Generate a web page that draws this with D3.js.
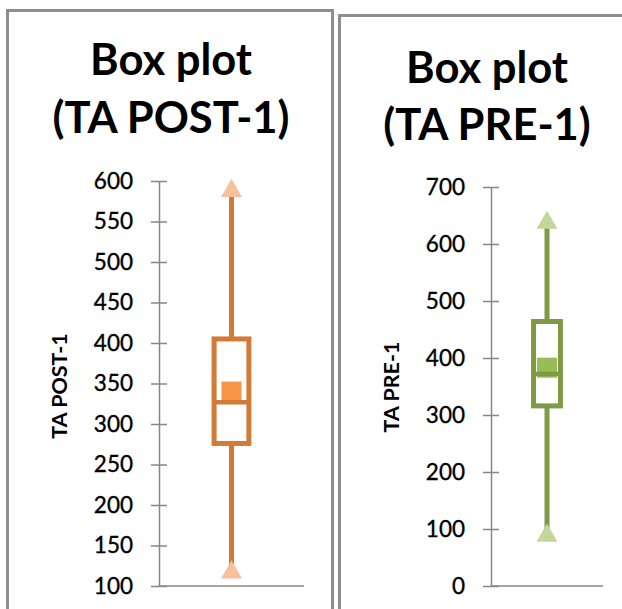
<!DOCTYPE html>
<html>
<head>
<meta charset="utf-8">
<script src="https://cdn.jsdelivr.net/npm/d3@7"></script>
<style>
  html, body { margin: 0; padding: 0; background: #fff; }
  svg { display: block; }
  text { font-family: Lato, "Open Sans", sans-serif; }
</style>
</head>
<body>
<svg id="chart" width="622" height="609"></svg>
<script>
// ---- data ----
const panels = ["TA POST-1", "TA PRE-1"];
const titles = [["Box plot", "(TA POST-1)"], ["Box plot", "(TA PRE-1)"]];
const mins    = [118, 90];
const q1s     = [276, 316];
const medians = [327, 372];
const q3s     = [405, 464];
const maxs    = [589, 639];
const means   = [340, 383];
const yDomains = [[100, 600], [0, 700]];
const yTicks = [
  [100, 150, 200, 250, 300, 350, 400, 450, 500, 550, 600],
  [0, 100, 200, 300, 400, 500, 600, 700]
];

// ---- styling / layout (not data) ----
const layouts = [
  { frame: [7.5, 10.5, 325, 700], axisX: 159, axisRight: 304, top: 181, bottom: 586,
    titleX: 171, titleY: [75, 133], labelX: 59, labelY: 386,
    stroke: "#D17B36", meanFill: "#F79646", triFill: "#F9C09E" },
  { frame: [339.5, 15.5, 320, 700], axisX: 491, axisRight: 603, top: 187, bottom: 586,
    titleX: 487, titleY: [83, 140], labelX: 391, labelY: 387,
    stroke: "#7E9A45", meanFill: "#9BBB59", triFill: "#C3D69B" }
];

const svg = d3.select("#chart");
const axisColor = "#878787";

panels.forEach((name, i) => {
  const L = layouts[i];
  const g = svg.append("g");

  // frame
  g.append("rect")
    .attr("x", L.frame[0]).attr("y", L.frame[1])
    .attr("width", L.frame[2]).attr("height", L.frame[3])
    .attr("fill", "#fff").attr("stroke", "#8e8e8e").attr("stroke-width", 3);

  // title
  titles[i].forEach((t, k) => {
    g.append("text")
      .attr("x", L.titleX).attr("y", L.titleY[k])
      .attr("text-anchor", "middle")
      .attr("font-weight", "bold").attr("font-size", 43.5)
      .attr("fill", "#000")
      .text(t);
  });

  // scales
  const y = d3.scaleLinear().domain(yDomains[i]).range([L.bottom, L.top]);
  const x = d3.scaleBand().domain([name]).range([L.axisX, L.axisRight]);

  // y axis
  const ay = g.append("g")
    .attr("transform", `translate(${L.axisX},0)`)
    .call(d3.axisLeft(y).tickValues(yTicks[i]).tickSizeInner(8).tickSizeOuter(0).tickPadding(18));
  ay.select(".domain").attr("stroke", axisColor).attr("stroke-width", 1.5);
  ay.selectAll(".tick line").attr("x1", 8).attr("stroke", axisColor).attr("stroke-width", 1.5);
  ay.selectAll(".tick text").attr("font-size", 22.5).attr("fill", "#000")
    .attr("stroke", "#000").attr("stroke-width", 0.35)
    .style("font-family", "Lato, 'Open Sans', sans-serif");

  // x axis line
  g.append("line")
    .attr("x1", L.axisX).attr("x2", L.axisRight)
    .attr("y1", y(yDomains[i][0])).attr("y2", y(yDomains[i][0]))
    .attr("stroke", axisColor).attr("stroke-width", 1.5);

  // axis label
  g.append("text")
    .attr("transform", `translate(${L.labelX},${L.labelY}) rotate(-90)`)
    .attr("text-anchor", "middle").attr("dominant-baseline", "central")
    .attr("font-weight", "bold").attr("font-size", 21.5)
    .attr("fill", "#000")
    .text(name);

  // box plot
  const cx = x(name) + x.bandwidth() / 2;
  const bw = x.bandwidth() * 0.24;

  // whiskers
  g.append("line")
    .attr("x1", cx).attr("x2", cx)
    .attr("y1", y(maxs[i])).attr("y2", y(q3s[i]))
    .attr("stroke", L.stroke).attr("stroke-width", 5);
  g.append("line")
    .attr("x1", cx).attr("x2", cx)
    .attr("y1", y(q1s[i])).attr("y2", y(mins[i]))
    .attr("stroke", L.stroke).attr("stroke-width", 5);

  // box
  g.append("rect")
    .attr("x", cx - bw / 2).attr("width", bw)
    .attr("y", y(q3s[i])).attr("height", y(q1s[i]) - y(q3s[i]))
    .attr("fill", "#fff").attr("stroke", L.stroke).attr("stroke-width", 5);

  // mean square
  const ms = 20;
  g.append("rect")
    .attr("x", cx - ms / 2).attr("y", y(means[i]) - ms / 2)
    .attr("width", ms).attr("height", ms)
    .attr("fill", L.meanFill);

  // median
  g.append("line")
    .attr("x1", cx - bw / 2).attr("x2", cx + bw / 2)
    .attr("y1", y(medians[i])).attr("y2", y(medians[i]))
    .attr("stroke", L.stroke).attr("stroke-width", 4.5);

  // min / max triangles
  const tri = d3.symbol().type(d3.symbolTriangle).size(190);
  [mins[i], maxs[i]].forEach(v => {
    g.append("path")
      .attr("d", tri())
      .attr("transform", `translate(${cx},${y(v) + 1})`)
      .attr("fill", L.triFill);
  });
});
</script>
</body>
</html>
